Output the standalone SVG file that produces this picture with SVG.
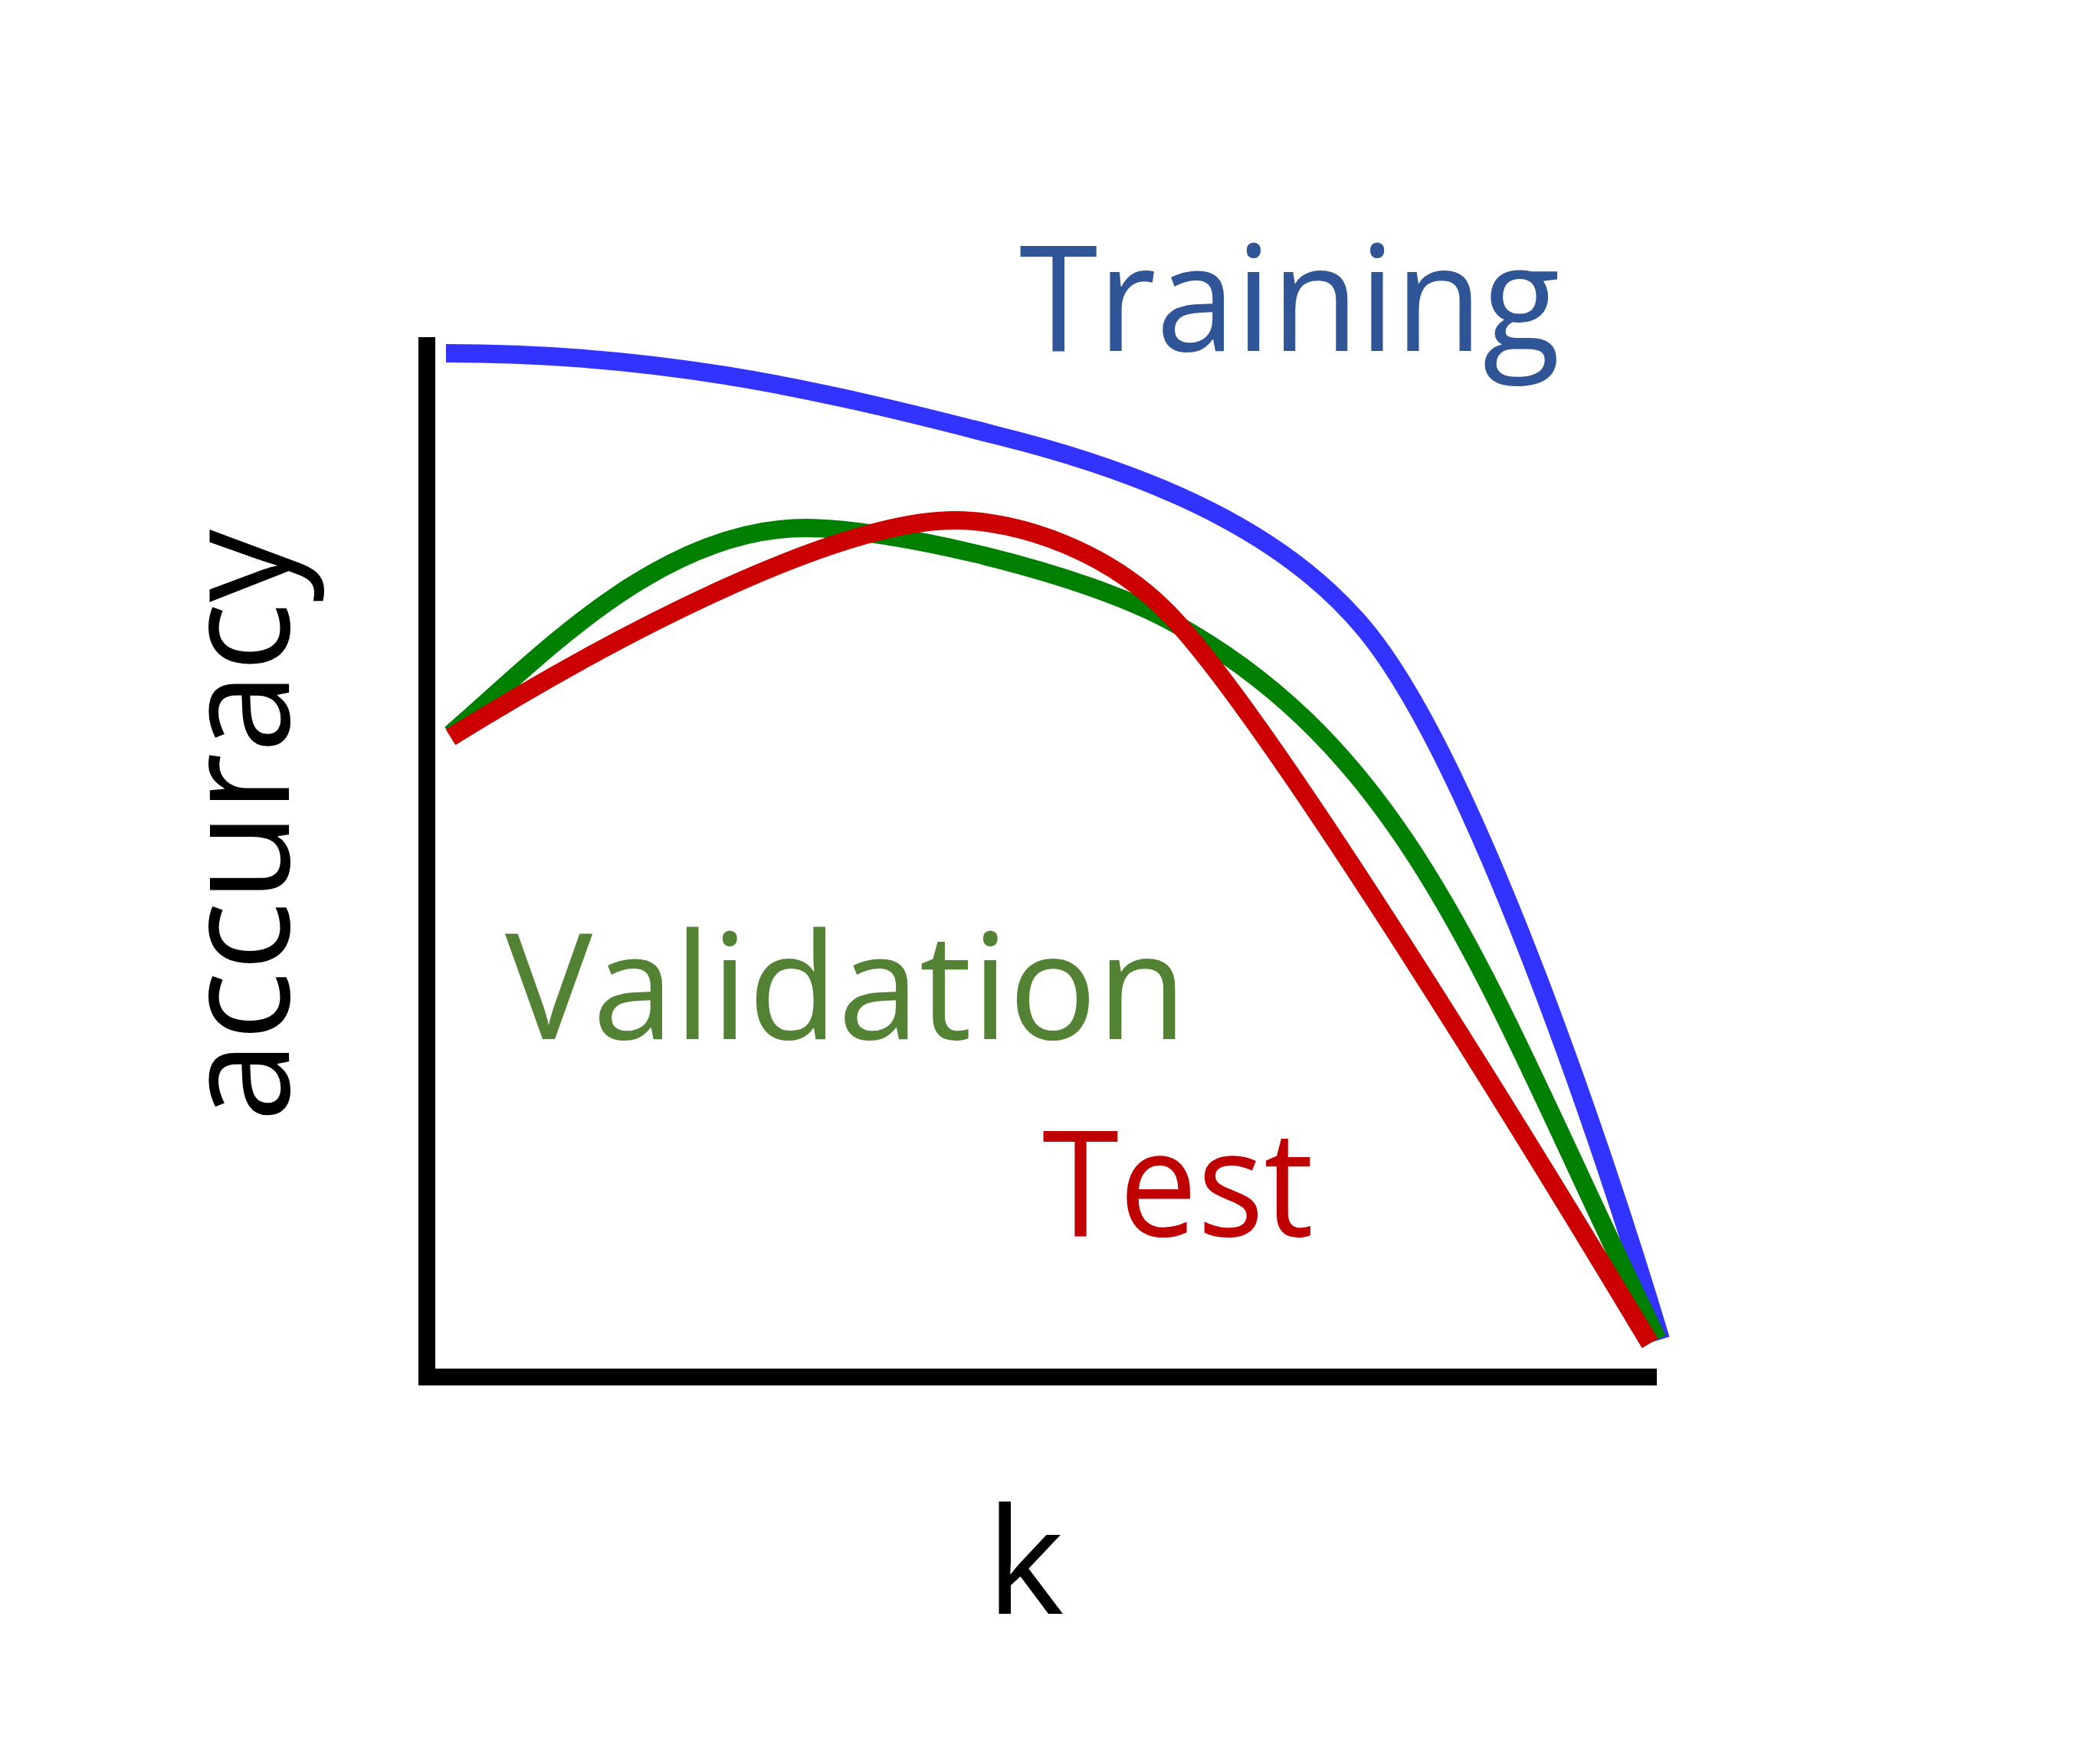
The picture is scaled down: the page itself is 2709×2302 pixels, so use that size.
<svg xmlns="http://www.w3.org/2000/svg" width="2709" height="2302" viewBox="0 0 2709 2302">
  <style>
    .curve { fill: none; stroke-width: 24; stroke-linecap: butt; stroke-linejoin: round; }
    .lbl { font-family: "Open Sans", "Liberation Sans", sans-serif; font-size: 193px; }
  </style>
  <rect width="2709" height="2302" fill="#ffffff"/>
  <g id="axes">
    <path d="M557,440 V1797 H2162" fill="none" stroke="#000000" stroke-width="22" stroke-linejoin="miter"/>
  </g>
  <g id="curves">
    <path id="training-curve" class="curve" stroke="#3333FF" d="M582,461 C850,461 1050,503 1300,568 C1540,627 1690,712 1780,820 C1920,988 2090,1490 2167,1748"/>
    <path id="validation-curve" class="curve" stroke="#008000" d="M588,958 C700,862 860,689 1051,689 C1160,689 1410,746 1530,812 C1850,988 1943,1297 2163,1748"/>
    <path id="test-curve" class="curve" stroke="#CC0000" d="M588,962 C830,812 1100,679 1246,679 C1330,679 1450,720 1530,806 C1680,966 2090,1648 2153,1753"/>
  </g>
  <g id="label-training">
    <text class="lbl" x="1330" y="458" fill="#2F5597" textLength="706" lengthAdjust="spacingAndGlyphs">Training</text>
  </g>
  <g id="label-validation">
    <text class="lbl" x="659" y="1356" fill="#548235" textLength="890" lengthAdjust="spacingAndGlyphs">Validation</text>
  </g>
  <g id="label-test">
    <text class="lbl" x="1360" y="1613" fill="#C00000" textLength="354" lengthAdjust="spacingAndGlyphs">Test</text>
  </g>
  <g id="label-accuracy">
    <text class="lbl" transform="translate(377,1464) rotate(-90)" x="0" y="0" fill="#000000" textLength="773" lengthAdjust="spacingAndGlyphs">accuracy</text>
  </g>
  <g id="label-k">
    <text class="lbl" x="1287" y="2106" fill="#000000">k</text>
  </g>
</svg>
